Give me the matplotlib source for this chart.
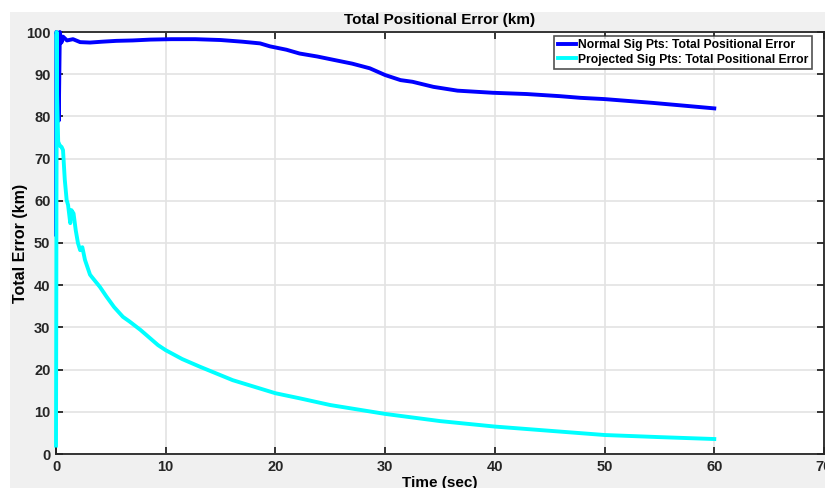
import matplotlib.pyplot as plt
from matplotlib.patches import Rectangle

plt.rcParams['font.family'] = ['Liberation Sans', 'DejaVu Sans']
plt.rcParams['font.weight'] = 'bold'

# time (sec) and total error (km)
t_normal = [0.0, 0.03, 0.08, 0.25, 0.35, 0.5, 0.64, 1.0, 1.55, 2.2, 3.1, 4.2,
            5.5, 7.0, 8.6, 10.5, 12.7, 15.0, 17.0, 18.6, 19.5, 21.0, 22.2,
            23.8, 25.3, 27.0, 28.6, 30.0, 31.4, 32.5, 34.4, 36.6, 39.8, 42.9,
            45.9, 47.8, 50.0, 54.4, 57.0, 60.0]
err_normal = [52.0, 100.0, 99.5, 79.0, 100.0, 97.5, 98.9, 98.0, 98.3, 97.6,
              97.5, 97.7, 97.9, 98.0, 98.2, 98.3, 98.3, 98.1, 97.7, 97.3,
              96.6, 95.8, 94.9, 94.2, 93.4, 92.5, 91.4, 89.8, 88.6, 88.2,
              87.0, 86.1, 85.6, 85.3, 84.8, 84.4, 84.1, 83.2, 82.6, 81.9]

t_proj = [0.0, 0.03, 0.06, 0.1, 0.2, 0.36, 0.5, 0.64, 0.8, 0.97, 1.1, 1.3,
          1.4, 1.6, 1.8, 2.0, 2.2, 2.4, 2.64, 3.1, 3.25, 4.0, 4.6, 5.3, 6.1,
          6.7, 7.7, 9.3, 10.0, 11.5, 13.1, 16.1, 20.0, 22.2, 25.0, 30.0,
          35.0, 40.0, 45.0, 50.0, 55.0, 60.0]
err_proj = [2.0, 40.0, 100.0, 85.0, 74.0, 73.0, 72.8, 72.0, 65.0, 60.2, 59.0,
            54.7, 57.8, 57.0, 53.0, 50.0, 48.3, 49.0, 46.0, 42.5, 42.0, 39.6,
            37.3, 34.8, 32.5, 31.4, 29.4, 25.8, 24.6, 22.5, 20.7, 17.5, 14.4,
            13.2, 11.6, 9.5, 7.8, 6.5, 5.5, 4.5, 4.0, 3.55]

fig = plt.figure(figsize=(8.25, 4.88), dpi=100, facecolor='white')
fig.patches.append(Rectangle((10 / 825, 0), 1, (488 - 12) / 488,
                             transform=fig.transFigure, facecolor='#f0f0f0',
                             edgecolor='none', zorder=-10))

ax = fig.add_axes([56 / 825, 34 / 488, 768 / 825, 422 / 488])
ax.set_facecolor('white')

ax.plot(t_normal, err_normal, color='#0000ff', lw=2.8, clip_on=False,
        zorder=3, label='Normal Sig Pts: Total Positional Error')
ax.plot(t_proj, err_proj, color='#00ffff', lw=2.8, clip_on=False,
        zorder=3, label='Projected Sig Pts: Total Positional Error')

ax.set_xlim(0, 70)
ax.set_ylim(0, 100)
ax.set_xticks(range(0, 71, 10))
ax.set_yticks(range(0, 101, 10))
ax.grid(True, color='#e3e3e3', lw=1.2)
ax.set_axisbelow(True)
ax.tick_params(direction='in', top=True, right=True, length=5, width=1.3,
               colors='#262626', labelsize=10.5, pad=4)
for lbl in ax.get_xticklabels() + ax.get_yticklabels():
    lbl.set_fontweight('bold')
for sp in ax.spines.values():
    sp.set_color('#262626')
    sp.set_linewidth(1.3)

ax.set_title('Total Positional Error (km)', fontsize=11, fontweight='bold',
             pad=6)
ax.set_xlabel('Time (sec)', fontsize=11, fontweight='bold')
ax.xaxis.set_label_coords(0.5, -0.052)
ax.set_ylabel('Total Error (km)', fontsize=11.5, fontweight='bold')
ax.yaxis.set_label_coords(-0.037, 0.5)

leg = ax.legend(loc='upper right', fontsize=8.7, frameon=True, fancybox=False,
                borderaxespad=0.3, handlelength=1.5, handletextpad=0.15,
                borderpad=0.3, labelspacing=0.2, bbox_to_anchor=(0.9885, 1.0))
leg.get_frame().set_edgecolor('#262626')
leg.get_frame().set_linewidth(1.2)
for txt in leg.get_texts():
    txt.set_fontweight('bold')

fig.savefig('out.png', dpi=100, facecolor=fig.get_facecolor())
